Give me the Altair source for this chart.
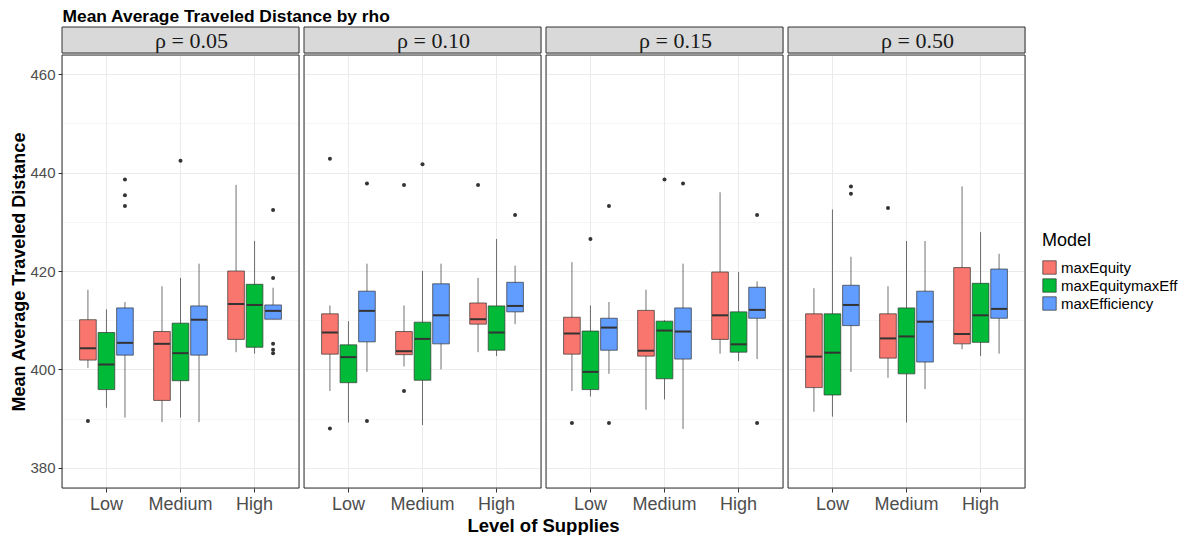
import altair as alt
import pandas as pd

levels = ["Low", "Medium", "High"]
models = ["maxEquity", "maxEquitymaxEff", "maxEfficiency"]
colors = ["#F8766D", "#00BA38", "#619CFF"]
rho_labels = ["ρ = 0.05", "ρ = 0.10", "ρ = 0.15", "ρ = 0.50"]

# [lower whisker, q1, median, q3, upper whisker] per rho -> level -> model
stats_005 = {
    "Low":    [[400.3, 401.9, 404.3, 410.1, 416.2], [392.2, 395.9, 401.0, 407.5, 412.2], [390.2, 402.9, 405.4, 412.5, 413.7]],
    "Medium": [[389.3, 393.7, 405.2, 407.7, 416.9], [390.2, 397.7, 403.3, 409.4, 418.6], [389.3, 402.9, 410.1, 412.9, 421.5]],
    "High":   [[403.5, 406.1, 413.3, 420.0, 437.5], [403.2, 404.5, 413.1, 417.3, 426.1], [410.2, 410.2, 411.9, 413.1, 416.6]],
}
stats_010 = {
    "Low":    [[395.6, 403.1, 407.5, 411.3, 413.0], [389.2, 397.3, 402.5, 405.0, 409.8], [399.5, 405.6, 411.9, 415.9, 421.5]],
    "Medium": [[400.6, 403.0, 403.7, 407.7, 413.0], [388.7, 397.8, 406.2, 409.6, 420.0], [400.0, 405.2, 411.0, 417.4, 421.5]],
    "High":   [[403.5, 409.2, 410.2, 413.5, 418.6], [402.7, 403.9, 407.5, 412.9, 426.5], [409.2, 411.7, 412.9, 417.7, 421.1]],
}
stats_015 = {
    "Low":    [[395.6, 403.1, 407.3, 410.6, 421.8], [394.5, 395.9, 399.5, 407.8, 413.0], [399.1, 403.9, 408.5, 410.4, 413.7]],
    "Medium": [[391.8, 402.7, 403.8, 412.0, 416.2], [393.9, 398.1, 407.9, 409.8, 410.0], [387.9, 402.1, 407.7, 412.5, 421.5]],
    "High":   [[403.2, 406.1, 411.0, 419.8, 436.0], [401.7, 403.5, 405.1, 411.7, 419.8], [402.1, 410.4, 412.1, 416.7, 417.9]],
}
stats_050 = {
    "Low":    [[391.4, 396.3, 402.6, 411.3, 416.5], [390.4, 394.8, 403.4, 411.3, 432.5], [399.5, 408.9, 413.1, 417.1, 422.9]],
    "Medium": [[398.3, 402.3, 406.3, 411.3, 416.9], [389.2, 399.1, 406.7, 412.5, 426.1], [396.0, 401.5, 409.7, 415.9, 426.1]],
    "High":   [[404.1, 405.2, 407.2, 420.7, 437.2], [402.7, 405.5, 411.0, 417.5, 427.9], [403.2, 410.4, 412.3, 420.4, 423.5]],
}

# outliers: (level, model index, value)
outliers_005 = [("Low", 0, 389.5), ("Low", 2, 438.6), ("Low", 2, 435.4), ("Low", 2, 433.2),
                ("Medium", 1, 442.4),
                ("High", 2, 432.4), ("High", 2, 418.6), ("High", 2, 405.2), ("High", 2, 404.0), ("High", 2, 403.3)]
outliers_010 = [("Low", 0, 442.8), ("Low", 0, 388.0), ("Low", 2, 437.8), ("Low", 2, 389.5),
                ("Medium", 0, 437.5), ("Medium", 0, 395.6), ("Medium", 1, 441.7),
                ("High", 0, 437.5), ("High", 2, 431.4)]
outliers_015 = [("Low", 0, 389.1), ("Low", 1, 426.5), ("Low", 2, 433.2), ("Low", 2, 389.1),
                ("Medium", 1, 438.6), ("Medium", 2, 437.8),
                ("High", 2, 431.4), ("High", 2, 389.1)]
outliers_050 = [("Low", 2, 437.2), ("Low", 2, 435.7), ("Medium", 0, 432.8)]

all_stats = [stats_005, stats_010, stats_015, stats_050]
all_out = [outliers_005, outliers_010, outliers_015, outliers_050]

box_rows = []
out_rows = []
for r, st, ol in zip(rho_labels, all_stats, all_out):
    for lv in levels:
        for mi, m in enumerate(models):
            lo, q1, md, q3, hi = st[lv][mi]
            box_rows.append(dict(rho=r, level=lv, model=m, lower=lo, q1=q1, median=md, q3=q3, upper=hi))
    for lv, mi, v in ol:
        out_rows.append(dict(rho=r, level=lv, model=models[mi], value=v))
box_df = pd.DataFrame(box_rows)
out_df = pd.DataFrame(out_rows)

W = 237
H = 433
STRIP = 26
GAP = 3
FONT = "Liberation Sans"

y_scale = alt.Scale(domain=[375.9, 463.9], nice=False, zero=False)
x_scale = alt.Scale(domain=levels, paddingInner=0.25, paddingOuter=0.225)
xo_scale = alt.Scale(domain=models, paddingInner=0.1, paddingOuter=0.05)
color_scale = alt.Scale(domain=models, range=colors)

grid_vals = [380, 390, 400, 410, 420, 430, 440, 450, 460]
major_test = "datum.value % 20 === 0"


def y_axis(first):
    common = dict(
        values=grid_vals,
        grid=True,
        gridColor="#ebebeb",
        gridWidth={"condition": {"test": major_test, "value": 1.0}, "value": 0.5},
    )
    if first:
        return alt.Axis(
            title="Mean Average Traveled Distance",
            titleFont=FONT, titleFontSize=18, titleFontWeight="bold", titleColor="black",
            titlePadding=1,
            labelFont=FONT, labelFontSize=15, labelColor="#4d4d4d",
            labelExpr="datum.value % 20 === 0 ? datum.label : ''",
            tickColor={"condition": {"test": major_test, "value": "#333333"}, "value": "transparent"},
            tickSize=4, domain=False, labelPadding=3,
            **common,
        )
    return alt.Axis(title=None, labels=False, ticks=False, domain=False, **common)


x_axis = alt.Axis(
    title=None,
    labelFont=FONT, labelFontSize=18, labelColor="#4d4d4d", labelAngle=0,
    tickColor="#333333", tickSize=4, domain=False, grid=True, gridColor="#ebebeb",
    gridWidth=1, labelPadding=3, bandPosition=0.5,
)


def panel(i):
    r = rho_labels[i]
    base = alt.Chart(box_df).transform_filter(alt.datum.rho == r)
    x = alt.X("level:N", scale=x_scale, sort=levels, axis=x_axis)
    xo = alt.XOffset("model:N", scale=xo_scale, sort=models)
    whisk = base.mark_rule(color="#333333", strokeWidth=0.7).encode(
        x=x, xOffset=xo,
        y=alt.Y("lower:Q", scale=y_scale, axis=y_axis(i == 0)),
        y2="upper:Q",
    )
    box = base.mark_bar(stroke="#333333", strokeWidth=0.7, opacity=1).encode(
        x=x, xOffset=xo,
        y="q1:Q", y2="q3:Q",
        color=alt.Color("model:N", scale=color_scale, sort=models,
                        legend=alt.Legend(title="Model", orient="none", legendX=980, legendY=205,
                                          titleFont=FONT, titleFontSize=18, titleFontWeight="normal",
                                          titleColor="black", labelFont=FONT, labelFontSize=15,
                                          labelColor="black", symbolType="square", symbolSize=180,
                                          symbolStrokeColor="#333333", symbolStrokeWidth=0.7,
                                          rowPadding=1, titlePadding=10)),
    )
    med = base.mark_tick(color="#333333", thickness=2, size=16, opacity=1).encode(
        x=x, xOffset=xo, y="median:Q",
    )
    pts = alt.Chart(out_df).transform_filter(alt.datum.rho == r).mark_circle(
        color="#333333", size=16, opacity=1
    ).encode(x=x, xOffset=xo, y="value:Q")
    border = alt.Chart(pd.DataFrame({"t": [r]})).mark_rect(
        fill=None, fillOpacity=0, stroke="#333333", strokeWidth=1
    ).encode(x=alt.value(0), x2=alt.value(W), y=alt.value(0), y2=alt.value(H))
    plot = alt.layer(whisk, box, med, pts, border).properties(width=W, height=H)

    sdf = pd.DataFrame({"t": [r]})
    strip_rect = alt.Chart(sdf).mark_rect(fill="#d9d9d9", stroke="#333333", strokeWidth=1).encode(
        x=alt.value(0), x2=alt.value(W), y=alt.value(0), y2=alt.value(STRIP)
    )
    strip_text = alt.Chart(sdf).mark_text(font="Liberation Serif", fontSize=22, color="#1a1a1a",
                                          baseline="middle", align="center", dx=11).encode(
        x=alt.value(W / 2), y=alt.value(STRIP / 2 + 1), text="t:N"
    )
    strip = alt.layer(strip_rect, strip_text).properties(width=W, height=STRIP)
    return alt.vconcat(strip, plot, spacing=0)


panels = alt.hconcat(*[panel(i) for i in range(4)], spacing=GAP)

TOTAL_W = 4 * W + 3 * GAP
xt = alt.Chart(pd.DataFrame({"t": ["Level of Supplies"]})).mark_text(
    font=FONT, fontSize=18.5, fontWeight="bold", color="black", align="center", baseline="middle"
).encode(x=alt.value(2 * W + 2.5 * GAP), y=alt.value(7), text="t:N").properties(
    width=TOTAL_W, height=14, view=alt.ViewBackground(strokeOpacity=0, strokeWidth=0)
)

chart = alt.vconcat(panels, xt, spacing=3).properties(
    title=alt.Title("Mean Average Traveled Distance by rho", anchor="start", font=FONT,
                    fontSize=17.4, fontWeight="bold", color="black", dx=52, offset=1),
    padding={"left": 10, "top": 7, "right": 0, "bottom": 0},
).configure_view(stroke="transparent", strokeWidth=0).configure(background="white")

chart.save("out.html", embed_options={"renderer": "svg", "actions": False})
